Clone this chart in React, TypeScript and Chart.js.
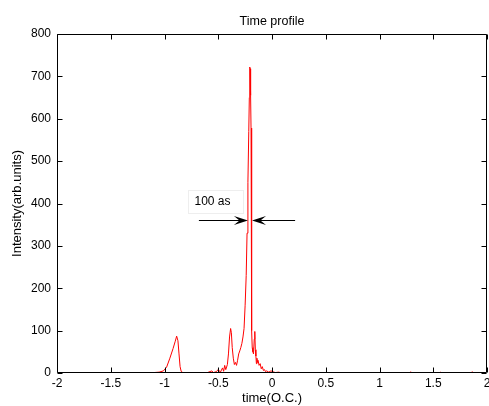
import React, { useEffect, useRef } from "react";
import { Chart, registerables } from "chart.js";

Chart.register(...registerables);

// ---- data (time in optical cycles, intensity in arb. units) ----
const timeOC = [
  -1.88, -1.5, -1.2, -1.1, -1.05, -1.01, -0.98, -0.95, -0.92, -0.9, -0.887, -0.875, -0.865,
  -0.855, -0.845, -0.83, -0.78, -0.6, -0.56, -0.545, -0.52, -0.5, -0.48, -0.46, -0.45, -0.44,
  -0.43, -0.415, -0.405, -0.395, -0.385, -0.378, -0.37, -0.36, -0.35, -0.34, -0.33, -0.32,
  -0.31, -0.3, -0.29, -0.28, -0.27, -0.26, -0.25, -0.24, -0.232, -0.224, -0.216, -0.211,
  -0.207, -0.203, -0.199, -0.195, -0.191, -0.188, -0.184, -0.178, -0.172, -0.165, -0.16,
  -0.155, -0.15, -0.145, -0.14, -0.135, -0.13, -0.12, -0.11, -0.1, -0.09, -0.08, -0.07,
  -0.06, -0.05, -0.03, -0.01, 0.01, 0.03, 0.06, 0.1, 0.5, 1.0, 1.28, 1.29, 1.3, 1.56, 1.57,
  1.58, 1.85, 1.86, 1.875,
];
const intensity = [
  0, 0, 0.5, 1, 2, 5, 14, 35, 58, 75, 87, 76, 45,
  15, 4, 1, 0, 1, 5, 1, 3, 8, 2, 12, 4, 18,
  8, 20, 45, 85, 105, 95, 60, 35, 20, 25, 18, 30,
  45, 52, 60, 70, 85, 105, 160, 230, 330, 450, 570, 650,
  722, 718, 655, 578, 300, 100, 60, 50, 45, 80, 98,
  55, 40, 22, 35, 25, 30, 18, 22, 10, 15, 6, 8,
  3, 5, 2, 5, 3, 1, 2, 0, 0, 0, 0, 3, 0, 0, 2,
  0, 0, 3, 0,
];

// axis ranges / ticks
const xRange = [-2, 2];
const xStep = 0.5;
const yRange = [0, 800];
const yStep = 100;

// texts
const chartTitle = "Time profile";
const xTitle = "time(O.C.)";
const yTitle = "Intensity(arb.units)";

// FWHM annotation (data units)
const fwhmLabel = "100 as";
const fwhmLevel = 361;
const leftArrowX = [-0.68, -0.224];
const rightArrowX = [0.215, -0.186];
const labelBoxX = [-0.781, -0.27];
const labelBoxY = [432, 377];

const FONT = "'Liberation Sans', Arial, Helvetica, sans-serif";

function drawArrow(ctx: CanvasRenderingContext2D, x0: number, x1: number, y: number) {
  const dir = x1 > x0 ? 1 : -1;
  ctx.beginPath();
  ctx.moveTo(x0, y);
  ctx.lineTo(x1 - dir * 6, y);
  ctx.strokeStyle = "#000";
  ctx.lineWidth = 1;
  ctx.stroke();
  const L = 14;
  const W = 4.5;
  ctx.beginPath();
  ctx.moveTo(x1, y);
  ctx.lineTo(x1 - dir * L, y - W);
  ctx.lineTo(x1 - dir * L * 0.6, y);
  ctx.lineTo(x1 - dir * L, y + W);
  ctx.closePath();
  ctx.fillStyle = "#000";
  ctx.fill();
}

const framePlugin = {
  id: "matlabFrame",
  afterDatasetsDraw(chart: any) {
    const { ctx, chartArea, scales } = chart;
    const xs = scales.x;
    const ys = scales.y;
    const l = Math.round(chartArea.left) + 0.5;
    const r = Math.round(chartArea.right) - 0.5;
    const t = Math.round(chartArea.top) + 0.5;
    const b = Math.round(chartArea.bottom) - 0.5;
    ctx.save();
    ctx.strokeStyle = "#000";
    ctx.lineWidth = 1;
    ctx.beginPath();
    ctx.rect(l, t, r - l, b - t);
    const tl = 5;
    xs.ticks.forEach((tk: any) => {
      const px = Math.round(xs.getPixelForValue(tk.value)) + 0.5;
      ctx.moveTo(px, b);
      ctx.lineTo(px, b - tl);
      ctx.moveTo(px, t);
      ctx.lineTo(px, t + tl);
    });
    ys.ticks.forEach((tk: any) => {
      const py = Math.round(ys.getPixelForValue(tk.value)) + 0.5;
      ctx.moveTo(l, py);
      ctx.lineTo(l + tl, py);
      ctx.moveTo(r, py);
      ctx.lineTo(r - tl, py);
    });
    ctx.stroke();

    // annotation box + text
    const bx0 = Math.round(xs.getPixelForValue(labelBoxX[0])) + 0.5;
    const bx1 = Math.round(xs.getPixelForValue(labelBoxX[1])) + 0.5;
    const by0 = Math.round(ys.getPixelForValue(labelBoxY[0])) + 0.5;
    const by1 = Math.round(ys.getPixelForValue(labelBoxY[1])) + 0.5;
    ctx.fillStyle = "#fff";
    ctx.fillRect(bx0, by0, bx1 - bx0, by1 - by0);
    ctx.strokeStyle = "#eeeeee";
    ctx.strokeRect(bx0, by0, bx1 - bx0, by1 - by0);
    ctx.fillStyle = "#000";
    ctx.font = `12px ${FONT}`;
    ctx.textBaseline = "middle";
    ctx.textAlign = "left";
    ctx.fillText(fwhmLabel, bx0 + 6, (by0 + by1) / 2);

    // arrows
    const ay = Math.round(ys.getPixelForValue(fwhmLevel)) + 0.5;
    drawArrow(ctx, xs.getPixelForValue(leftArrowX[0]), xs.getPixelForValue(leftArrowX[1]), ay);
    drawArrow(ctx, xs.getPixelForValue(rightArrowX[0]), xs.getPixelForValue(rightArrowX[1]), ay);
    ctx.restore();
  },
};

export default function App() {
  const ref = useRef<HTMLCanvasElement | null>(null);

  useEffect(() => {
    if (!ref.current) return;
    const chart = new Chart(ref.current, {
      type: "line",
      data: {
        datasets: [
          {
            data: timeOC.map((x, i) => ({ x, y: intensity[i] })),
            borderColor: "#ff0000",
            borderWidth: 1,
            pointRadius: 0,
            tension: 0,
            fill: false,
          },
        ],
      },
      options: {
        animation: false,
        responsive: false,
        maintainAspectRatio: false,
        layout: { padding: { left: 0, right: 2, top: 0, bottom: 0 } },
        plugins: {
          legend: { display: false },
          tooltip: { enabled: false },
          title: {
            display: true,
            text: chartTitle,
            fullSize: false,
            color: "#000",
            font: { family: FONT, size: 12.5, weight: "normal" },
            padding: { top: 14, bottom: 5 },
          },
        },
        scales: {
          x: {
            type: "linear",
            min: xRange[0],
            max: xRange[1],
            afterFit: (s: any) => {
              s.height = 33;
              s.paddingLeft = 0;
              s.paddingRight = 0;
            },
            ticks: {
              stepSize: xStep,
              autoSkip: false,
              maxRotation: 0,
              padding: 3,
              color: "#000",
              font: { family: FONT, size: 12 },
              callback: (v: any) => String(Math.round(Number(v) * 10) / 10),
            },
            grid: { display: false, drawTicks: false },
            border: { display: false },
            title: {
              display: true,
              text: xTitle,
              color: "#000",
              font: { family: FONT, size: 13 },
              padding: { top: 0, bottom: 0 },
            },
          },
          y: {
            type: "linear",
            min: yRange[0],
            max: yRange[1],
            afterFit: (s: any) => {
              s.width = 57;
              s.paddingTop = 0;
              s.paddingBottom = 0;
            },
            ticks: {
              stepSize: yStep,
              padding: 6,
              color: "#000",
              font: { family: FONT, size: 12 },
            },
            grid: { display: false, drawTicks: false },
            border: { display: false },
            title: {
              display: true,
              text: yTitle,
              color: "#000",
              font: { family: FONT, size: 13 },
              padding: { top: 10, bottom: 0 },
            },
          },
        },
      },
      plugins: [framePlugin],
    });
    return () => chart.destroy();
  }, []);

  return (
    <div style={{ position: "fixed", left: 0, top: 0, width: 489, height: 406, background: "#fff" }}>
      <canvas ref={ref} width={489} height={406} style={{ display: "block" }} />
    </div>
  );
}
